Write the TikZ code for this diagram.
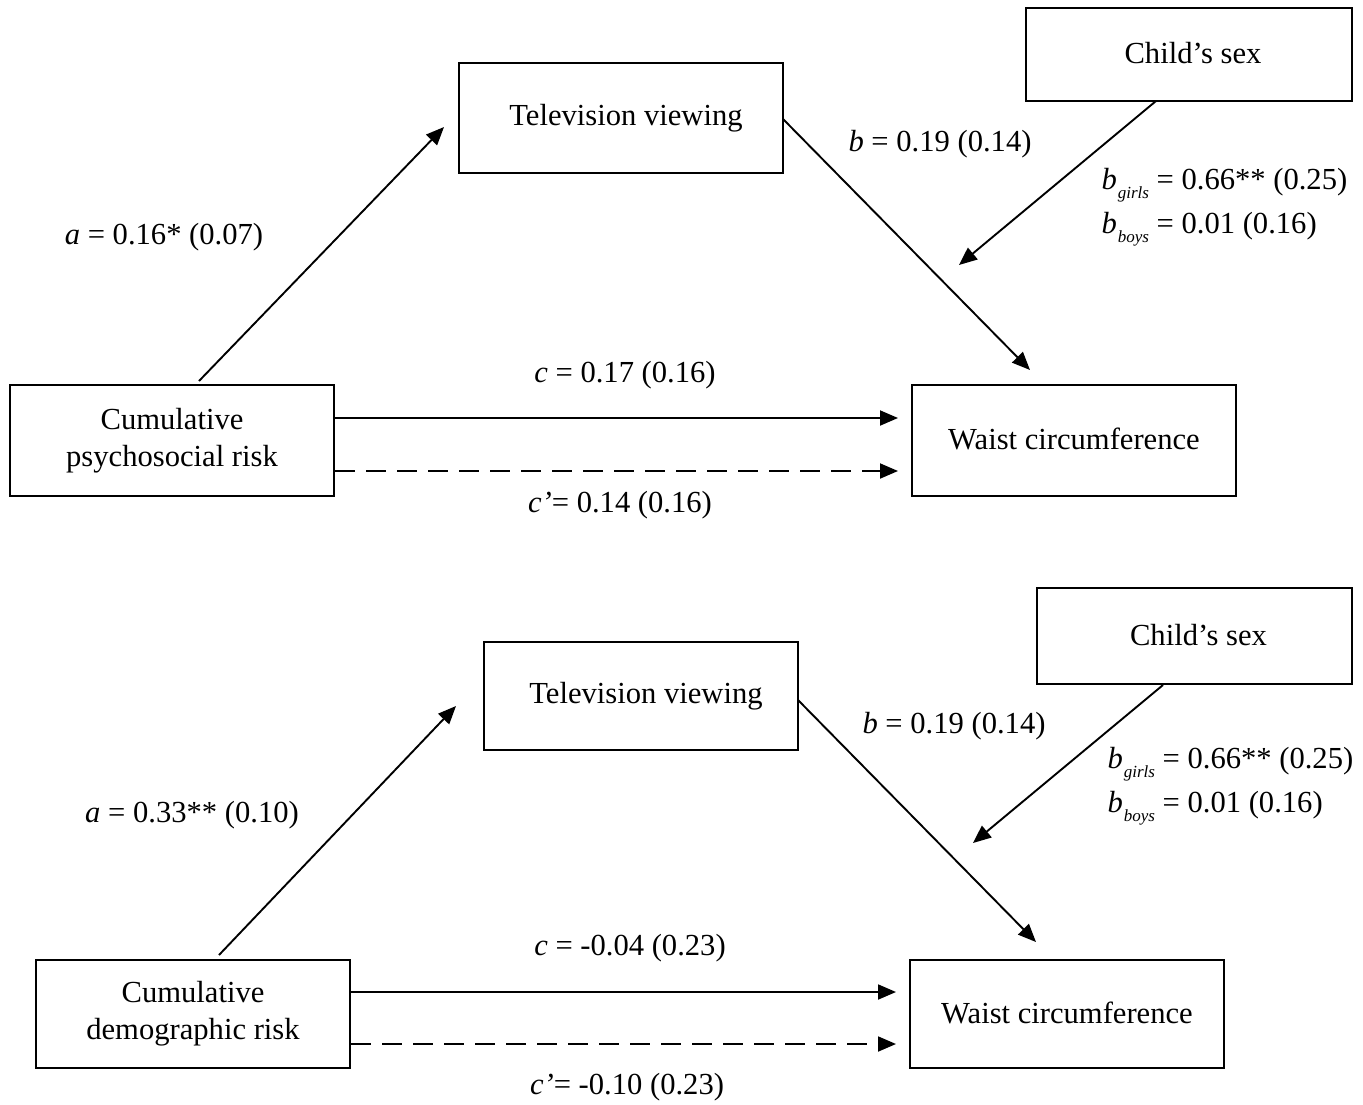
\documentclass[tikz,border=0pt]{standalone}
\usepackage{fontspec}
\setmainfont{Liberation Serif}
\usetikzlibrary{arrows.meta}
\begin{document}
\begin{tikzpicture}[x=1pt,y=-1pt,
  every node/.style={font=\fontsize{30.6}{37}\selectfont},
  box/.style={draw,line width=2pt,inner sep=0pt,align=center},
  conn/.style={line width=1.9pt,-{Triangle[length=18pt,width=15pt]}},
  dashconn/.style={conn,dash pattern=on 20pt off 11pt}]
\useasboundingbox (0,0) rectangle (1363,1104);
\fill[white] (0,0) rectangle (1363,1104);
\newcommand{\bsub}[1]{\textit{b}\raisebox{-9pt}{\itshape\hspace{1pt}\fontsize{17}{20}\selectfont #1}}

% ---------- top panel ----------
\node[box,minimum width=324pt,minimum height=111pt] (psy) at (172,440.5) {Cumulative\\psychosocial risk};
\node[box,minimum width=324pt,minimum height=110pt] (tv1) at (621,118) {\raisebox{3pt}{\hspace*{10pt}Television viewing}};
\node[box,minimum width=326pt,minimum height=93pt] (sex1) at (1189,54.5) {\raisebox{3pt}{\hspace*{8pt}Child’s sex}};
\node[box,minimum width=324pt,minimum height=111pt] (wc1) at (1074,440.5) {\raisebox{3pt}{Waist circumference}};

\coordinate (a1s) at (199,381);
\coordinate (a1e) at (444,127);
\coordinate (b1s) at (783,119);
\coordinate (b1e) at (1030,370);
\coordinate (m1s) at (1156,101);
\coordinate (m1e) at (959,265);
\coordinate (c1e) at (898,418);
\coordinate (d1e) at (898,471);

\draw[conn] (a1s) -- (a1e);
\draw[conn] (b1s) -- (b1e);
\draw[conn] (m1s) -- (m1e);
\draw[conn] (psy.east |- c1e) -- (c1e);
\draw[dashconn] (psy.east |- d1e) -- (d1e);

\node (la1) at (164,237) {\textit{a} = 0.16* (0.07)};
\node (lb1) at (940,144) {\textit{b} = 0.19 (0.14)};
\node[anchor=west] (lg1) at (1098,185) {\bsub{girls} = 0.66** (0.25)};
\node[anchor=west] (lboy1) at (1098,229) {\bsub{boys} = 0.01 (0.16)};
\node (lc1) at (625,375) {\textit{c} = 0.17 (0.16)};
\node (ld1) at (620,505) {\textit{c’}= 0.14 (0.16)};

% ---------- bottom panel ----------
\node[box,minimum width=314pt,minimum height=108pt] (dem) at (193,1014) {Cumulative\\demographic risk};
\node[box,minimum width=314pt,minimum height=108pt] (tv2) at (641,696) {\raisebox{3pt}{\hspace*{10pt}Television viewing}};
\node[box,minimum width=315pt,minimum height=96pt] (sex2) at (1194.5,636) {\raisebox{2pt}{\hspace*{8pt}Child’s sex}};
\node[box,minimum width=314pt,minimum height=108pt] (wc2) at (1067,1014) {\raisebox{3pt}{Waist circumference}};

\coordinate (a2s) at (219,955);
\coordinate (a2e) at (456,706);
\coordinate (b2s) at (798,700);
\coordinate (b2e) at (1036,942);
\coordinate (m2s) at (1163,685);
\coordinate (m2e) at (973,843);
\coordinate (c2e) at (896,992);
\coordinate (d2e) at (896,1044);

\draw[conn] (a2s) -- (a2e);
\draw[conn] (b2s) -- (b2e);
\draw[conn] (m2s) -- (m2e);
\draw[conn] (dem.east |- c2e) -- (c2e);
\draw[dashconn] (dem.east |- d2e) -- (d2e);

\node (la2) at (192,815) {\textit{a} = 0.33** (0.10)};
\node (lb2) at (954,726) {\textit{b} = 0.19 (0.14)};
\node[anchor=west] (lg2) at (1104,764) {\bsub{girls} = 0.66** (0.25)};
\node[anchor=west] (lboy2) at (1104,808) {\bsub{boys} = 0.01 (0.16)};
\node (lc2) at (630,948) {\textit{c} = -0.04 (0.23)};
\node (ld2) at (627,1087) {\textit{c’}= -0.10 (0.23)};
\end{tikzpicture}
\end{document}
